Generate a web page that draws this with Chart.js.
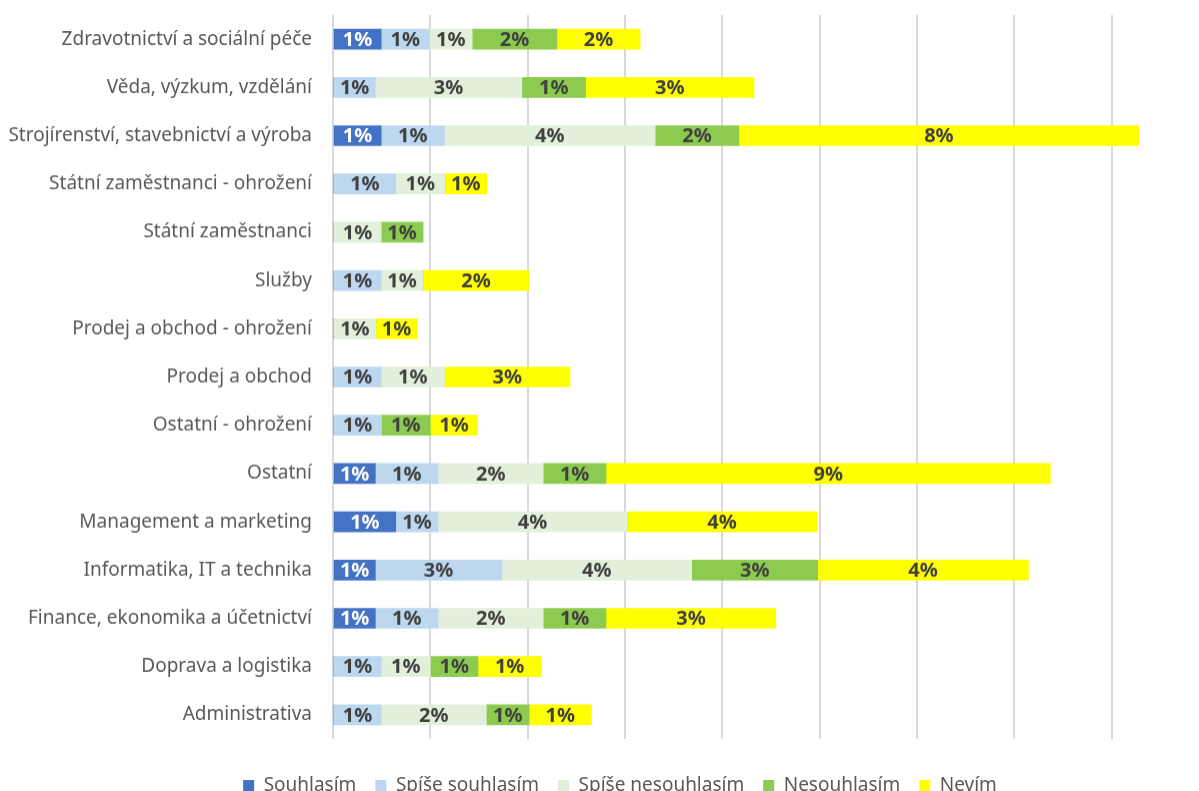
<!DOCTYPE html>
<html lang="cs">
<head>
<meta charset="utf-8">
<title>Souhlas podle oboru</title>
<script src="https://cdn.jsdelivr.net/npm/chart.js@4.4.1/dist/chart.umd.min.js"></script>
<style>
  html, body { margin: 0; padding: 0; background: #ffffff; overflow: hidden; }
  #wrap { position: relative; width: 1240px; height: 804.5px; }
</style>
</head>
<body>
<div id="wrap"><canvas id="chart"></canvas></div>
<script>
// Obory (shora dolů)
const categories = [
  'Zdravotnictví a sociální péče',
  'Věda, výzkum, vzdělání',
  'Strojírenství, stavebnictví a výroba',
  'Státní zaměstnanci - ohrožení',
  'Státní zaměstnanci',
  'Služby',
  'Prodej a obchod - ohrožení',
  'Prodej a obchod',
  'Ostatní - ohrožení',
  'Ostatní',
  'Management a marketing',
  'Informatika, IT a technika',
  'Finance, ekonomika a účetnictví',
  'Doprava a logistika',
  'Administrativa'
];

// Podíly odpovědí v procentech
const souhlasim          = [0.99, 0,    0.99, 0,    0,    0,    0,    0,    0,    0.87, 1.29, 0.87, 0.87, 0,    0   ];
const spiseSouhlasim     = [0.99, 0.87, 1.30, 1.29, 0,    0.99, 0,    0.99, 0.99, 1.29, 0.87, 2.60, 1.29, 0.99, 0.99];
const spiseNesouhlasim   = [0.88, 3.01, 4.33, 1.01, 0.99, 0.86, 0.88, 1.30, 0,    2.16, 3.88, 3.90, 2.16, 1.01, 2.16];
const nesouhlasim        = [1.74, 1.31, 1.72, 0,    0.86, 0,    0,    0,    1.01, 1.29, 0,    2.59, 1.29, 0.98, 0.88];
const nevim              = [1.71, 3.46, 8.22, 0.86, 0,    2.18, 0.85, 2.58, 0.97, 9.13, 3.91, 4.33, 3.49, 1.30, 1.28];

const seriesNames = ['Souhlasím', 'Spíše souhlasím', 'Spíše nesouhlasím', 'Nesouhlasím', 'Nevím'];
const seriesData = [souhlasim, spiseSouhlasim, spiseNesouhlasim, nesouhlasim, nevim];
const seriesColors = ['#4472C4', '#BDD7EE', '#E2EFDA', '#8CCB50', '#FFFF00'];
const labelColors = ['#ffffff', '#404040', '#404040', '#404040', '#404040'];

// Popisky hodnot uprostřed segmentů
const valueLabels = {
  id: 'valueLabels',
  afterDatasetsDraw(chart) {
    const ctx = chart.ctx;
    ctx.save();
    ctx.font = 'bold 20px "Noto Sans", sans-serif';
    ctx.textAlign = 'center';
    ctx.textBaseline = 'middle';
    chart.data.datasets.forEach((ds, i) => {
      const meta = chart.getDatasetMeta(i);
      if (meta.hidden) return;
      meta.data.forEach((bar, j) => {
        const v = ds.data[j];
        if (!v) return;
        const p = bar.getProps(['x', 'y', 'base'], true);
        ctx.fillStyle = labelColors[i];
        ctx.fillText(Math.round(v) + '%', (p.x + p.base) / 2, p.y + 1);
      });
    });
    ctx.restore();
  }
};

// Legenda vystředěná na celou šířku grafu (vpravo je kreslicí plocha odsazena)
const legendShift = {
  id: 'legendShift',
  afterLayout(chart) {
    const lg = chart.legend;
    if (!lg) return;
    const dx = chart.options.layout.padding.right / 2;
    lg.left += dx;
    lg.right += dx;
    if (lg.legendHitBoxes) lg.legendHitBoxes.forEach(b => { b.left += dx; });
  }
};

new Chart(document.getElementById('chart'), {
  type: 'bar',
  data: {
    labels: categories,
    datasets: seriesNames.map((name, i) => ({
      label: name,
      data: seriesData[i],
      backgroundColor: seriesColors[i],
      borderWidth: 0,
      barThickness: 20
    }))
  },
  options: {
    indexAxis: 'y',
    responsive: true,
    maintainAspectRatio: false,
    animation: false,
    events: [],
    layout: { padding: { top: 15, right: 31, bottom: 0, left: 0 } },
    scales: {
      x: {
        stacked: true,
        min: 0,
        max: 18,
        ticks: { display: false, stepSize: 2 },
        grid: { color: '#d9d9d9', lineWidth: 2, drawTicks: false },
        border: { display: false },
        afterFit(scale) { scale.height = 18.5; }
      },
      y: {
        stacked: true,
        grid: { display: false, drawTicks: false },
        border: { display: false },
        ticks: {
          color: '#595959',
          padding: 21,
          font: { family: '"Noto Sans", sans-serif', size: 19 }
        },
        afterFit(scale) {
          scale.width = 333;
          scale.paddingTop = 0;
          scale.paddingBottom = 0;
        }
      }
    },
    plugins: {
      legend: {
        position: 'bottom',
        labels: {
          color: '#595959',
          boxWidth: 11,
          boxHeight: 12,
          padding: 19,
          font: { family: '"Noto Sans", sans-serif', size: 19 }
        }
      },
      tooltip: { enabled: false }
    }
  },
  plugins: [valueLabels, legendShift]
});
</script>
</body>
</html>
